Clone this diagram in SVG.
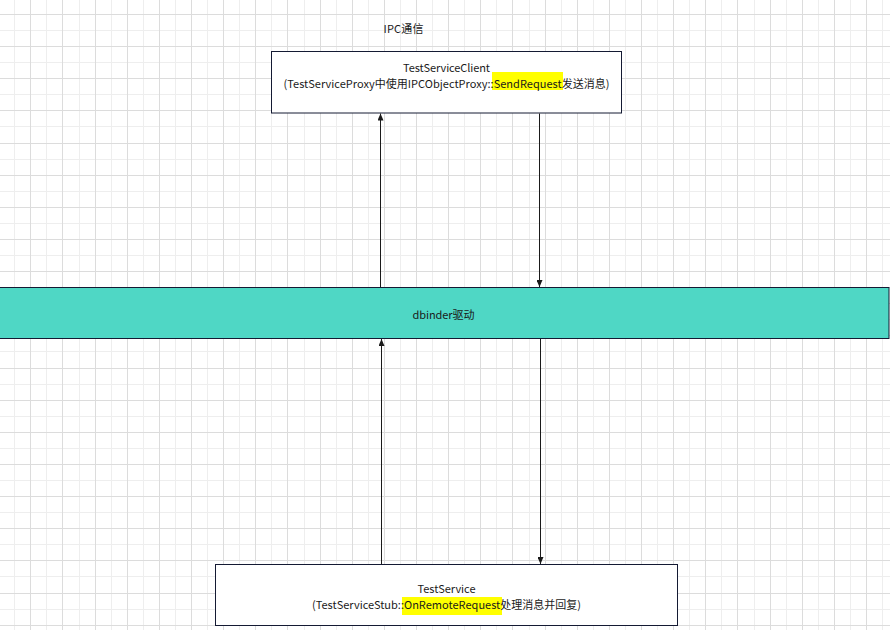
<svg xmlns="http://www.w3.org/2000/svg" width="890" height="630" viewBox="0 0 890 630">
<defs>
<style>
.minor{stroke:#eeeeee;stroke-width:1;fill:none}
.major{stroke:#dcdcdc;stroke-width:1;fill:none}
.box{fill:#ffffff;stroke:#141a33;stroke-width:1}
.bar{fill:#4fd7c5;stroke:#141a33;stroke-width:1}
.t{font-family:"Noto Sans CJK SC","Liberation Sans",sans-serif;font-size:11px;fill:#1a1a1a;text-anchor:middle}
.hl{fill:#ffff00}
.conn{stroke:#1a1a1a;stroke-width:1;fill:none;marker-end:url(#arr)}
</style>
<marker id="arr" markerUnits="userSpaceOnUse" markerWidth="7" markerHeight="6" refX="7" refY="3" orient="auto">
<path d="M0,0 L7,3 L0,6 z" fill="#1a1a1a"/>
</marker>
</defs>
<rect width="890" height="630" fill="#ffffff"/>
<g id="grid">
<path class="minor" d="M14.5,0V630M46.5,0V630M79.5,0V630M111.5,0V630M143.5,0V630M175.5,0V630M207.5,0V630M239.5,0V630M271.5,0V630M304.5,0V630M336.5,0V630M368.5,0V630M400.5,0V630M432.5,0V630M464.5,0V630M496.5,0V630M529.5,0V630M561.5,0V630M593.5,0V630M625.5,0V630M657.5,0V630M689.5,0V630M721.5,0V630M754.5,0V630M786.5,0V630M818.5,0V630M850.5,0V630M882.5,0V630
M0,30.5H890M0,62.5H890M0,94.5H890M0,126.5H890M0,159.5H890M0,191.5H890M0,223.5H890M0,255.5H890M0,287.5H890M0,319.5H890M0,351.5H890M0,384.5H890M0,416.5H890M0,448.5H890M0,480.5H890M0,512.5H890M0,544.5H890M0,576.5H890M0,609.5H890"/>
<path class="major" d="M30.5,0V630M62.5,0V630M95.5,0V630M127.5,0V630M159.5,0V630M191.5,0V630M223.5,0V630M255.5,0V630M287.5,0V630M320.5,0V630M352.5,0V630M384.5,0V630M416.5,0V630M448.5,0V630M480.5,0V630M512.5,0V630M545.5,0V630M577.5,0V630M609.5,0V630M641.5,0V630M673.5,0V630M705.5,0V630M737.5,0V630M770.5,0V630M802.5,0V630M834.5,0V630M866.5,0V630
M0,14.5H890M0,46.5H890M0,78.5H890M0,110.5H890M0,143.5H890M0,175.5H890M0,207.5H890M0,239.5H890M0,271.5H890M0,303.5H890M0,335.5H890M0,368.5H890M0,400.5H890M0,432.5H890M0,464.5H890M0,496.5H890M0,528.5H890M0,560.5H890M0,593.5H890M0,625.5H890"/>
</g>
<text class="t" x="403.5" y="33" textLength="40" lengthAdjust="spacing">IPC通信</text>
<g id="client">
<rect class="box" x="271.5" y="51.5" width="350" height="61.5"/>
<rect class="hl" x="492" y="72" width="71" height="18"/>
<text class="t" x="446.5" y="71.5" textLength="87" lengthAdjust="spacing">TestServiceClient</text>
<text class="t" x="446.5" y="87.5" textLength="326" lengthAdjust="spacing">(TestServiceProxy中使用IPCObjectProxy::SendRequest发送消息)</text>
</g>
<g id="dbinder">
<rect class="bar" x="-1" y="287.5" width="890" height="51"/>
<text class="t" x="443.5" y="319" textLength="62" lengthAdjust="spacing">dbinder驱动</text>
</g>
<g id="service">
<rect class="box" x="215.5" y="564.5" width="462" height="61"/>
<rect class="hl" x="402" y="597" width="100" height="18"/>
<text class="t" x="446.5" y="592.5" textLength="58" lengthAdjust="spacing">TestService</text>
<text class="t" x="446.5" y="609" textLength="269" lengthAdjust="spacing">(TestServiceStub::OnRemoteRequest处理消息并回复)</text>
</g>
<g id="connectors">
<line class="conn" x1="380.5" y1="287" x2="380.5" y2="113.5"/>
<line class="conn" x1="539.5" y1="113.5" x2="539.5" y2="287"/>
<line class="conn" x1="381.5" y1="564" x2="381.5" y2="339"/>
<line class="conn" x1="540.5" y1="339" x2="540.5" y2="564"/>
</g>
</svg>
